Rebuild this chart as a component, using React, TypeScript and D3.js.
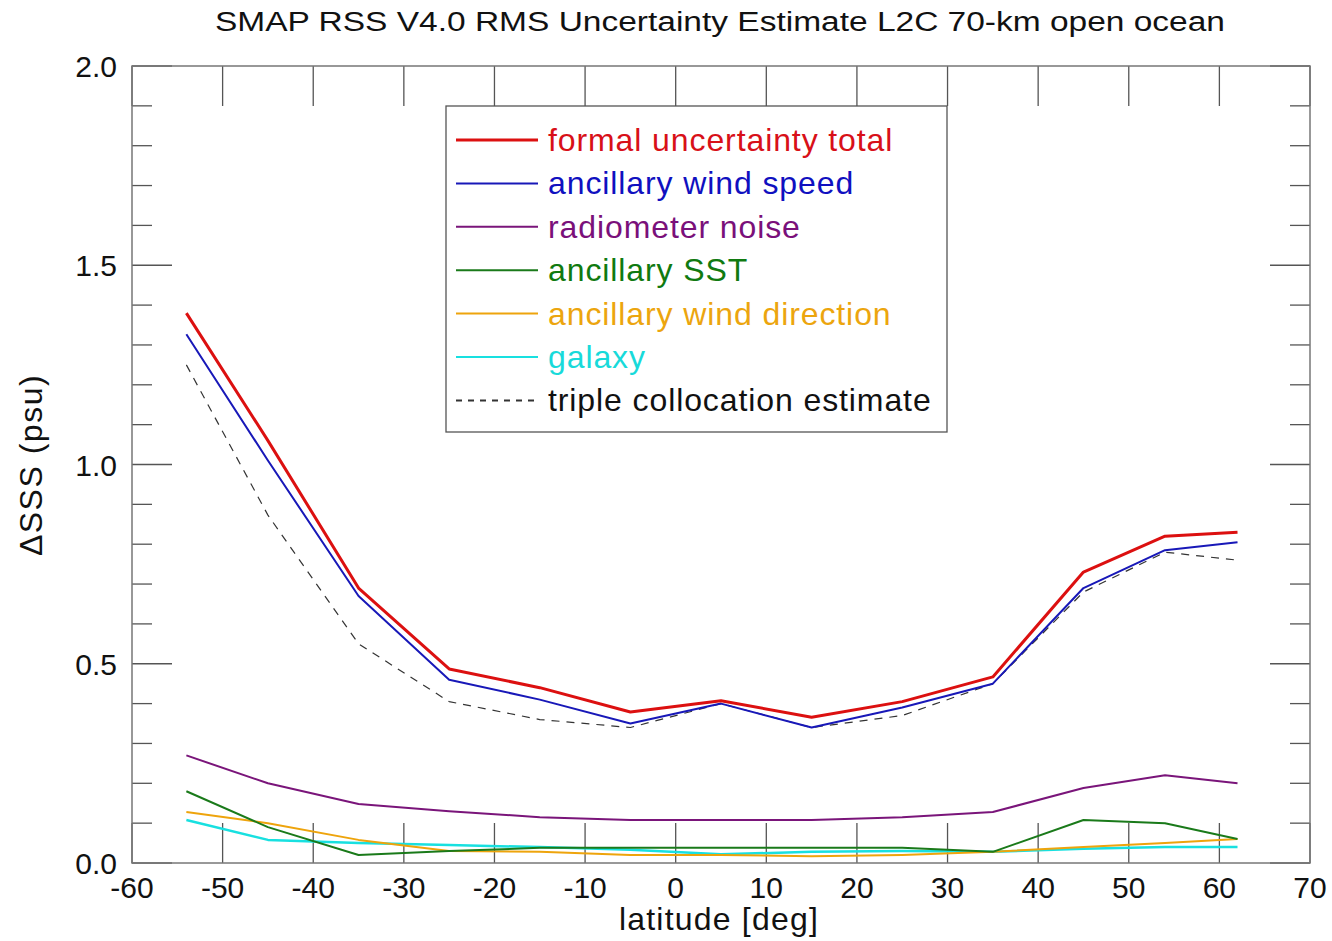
import React from "react";
import * as d3 from "d3";

const latitudes = [-54, -45, -35, -25, -15, -5, 5, 15, 25, 35, 45, 54, 62];
const formalTotal = [1.38, 1.06, 0.69, 0.487, 0.44, 0.379, 0.407, 0.366, 0.405, 0.467, 0.73, 0.82, 0.83];
const windSpeed = [1.327, 1.01, 0.67, 0.46, 0.41, 0.35, 0.40, 0.34, 0.39, 0.45, 0.69, 0.785, 0.805];
const radiometerNoise = [0.27, 0.20, 0.148, 0.13, 0.115, 0.108, 0.108, 0.108, 0.115, 0.128, 0.188, 0.22, 0.20];
const ancillarySST = [0.18, 0.09, 0.02, 0.03, 0.038, 0.038, 0.038, 0.038, 0.038, 0.028, 0.108, 0.10, 0.06];
const windDirection = [0.128, 0.10, 0.058, 0.03, 0.028, 0.02, 0.02, 0.017, 0.02, 0.028, 0.04, 0.05, 0.06];
const galaxy = [0.108, 0.058, 0.05, 0.045, 0.04, 0.033, 0.022, 0.028, 0.03, 0.028, 0.036, 0.04, 0.04];
const tripleCollocation = [1.25, 0.873, 0.55, 0.405, 0.36, 0.34, 0.40, 0.34, 0.37, 0.45, 0.68, 0.78, 0.76];

const xTicks = [-60, -50, -40, -30, -20, -10, 0, 10, 20, 30, 40, 50, 60, 70];
const yMajor = [0, 0.5, 1.0, 1.5, 2.0];
const yMinor = d3.range(0, 2.0001, 0.1);

const title = "SMAP RSS V4.0 RMS Uncertainty Estimate L2C 70-km open ocean";
const xLabel = "latitude [deg]";
const yLabel = "\u0394SSS (psu)";

const series = [
  { name: "formal uncertainty total", values: formalTotal, color: "#dc1010", width: 3, dash: "" },
  { name: "ancillary wind speed", values: windSpeed, color: "#1818b8", width: 2, dash: "" },
  { name: "radiometer noise", values: radiometerNoise, color: "#7a157a", width: 2, dash: "" },
  { name: "ancillary SST", values: ancillarySST, color: "#1a7a1a", width: 2, dash: "" },
  { name: "ancillary wind direction", values: windDirection, color: "#eea40c", width: 2, dash: "" },
  { name: "galaxy", values: galaxy, color: "#18e0e0", width: 2.5, dash: "" },
  { name: "triple collocation estimate", values: tripleCollocation, color: "#333333", width: 1.2, dash: "8,7" },
];
const legendText = [
  "#d81018", "#1010c0", "#7a107a", "#107a10", "#eca50e", "#18dada", "#111111",
];

export default function App() {
  const W = 1332, H = 941;
  const left = 132, right = 1310, top = 66, bottom = 863;
  const x = d3.scaleLinear().domain([-60, 70]).range([left, right]);
  const y = d3.scaleLinear().domain([0, 2]).range([bottom, top]);
  const line = d3.line<number>().x((_, i) => x(latitudes[i])).y((v) => y(v));
  const font = "'Liberation Sans', Arial, Helvetica, sans-serif";
  const tickColor = "#555";

  const lgX = 446, lgY = 106, lgW = 501, lgH = 326;
  const rowY0 = 140, rowDy = 43.4;

  return (
    <svg width={W} height={H} style={{ position: "absolute", left: 0, top: 0, background: "#fff" }} fontFamily={font}>
      <rect x={0} y={0} width={W} height={H} fill="#fff" />
      <text x={720} y={31} fontSize={27} textAnchor="middle" textLength={1010} lengthAdjust="spacingAndGlyphs" fill="#111">{title}</text>

      {/* x ticks */}
      {xTicks.map((t) => (
        <g key={"xt" + t}>
          <line x1={x(t)} x2={x(t)} y1={bottom} y2={bottom - 40} stroke={tickColor} strokeWidth={1.3} />
          <line x1={x(t)} x2={x(t)} y1={top} y2={top + 40} stroke={tickColor} strokeWidth={1.3} />
          <text x={x(t)} y={bottom + 35} fontSize={30} textAnchor="middle" fill="#111">{t}</text>
        </g>
      ))}
      {/* y ticks */}
      {yMinor.map((t, i) => {
        const major = i % 5 === 0;
        const len = major ? 40 : 20;
        return (
          <g key={"yt" + i}>
            <line x1={left} x2={left + len} y1={y(t)} y2={y(t)} stroke={tickColor} strokeWidth={1.3} />
            <line x1={right} x2={right - len} y1={y(t)} y2={y(t)} stroke={tickColor} strokeWidth={1.3} />
          </g>
        );
      })}
      {yMajor.map((t) => (
        <text key={"yl" + t} x={117} y={y(t) + 11} fontSize={30} textAnchor="end" fill="#111">{t.toFixed(1)}</text>
      ))}

      {/* frame */}
      <rect x={left} y={top} width={right - left} height={bottom - top} fill="none" stroke="#777" strokeWidth={1.5} />

      {/* series */}
      {series.slice().reverse().map((s) => (
        <path key={s.name} d={line(s.values) || ""} fill="none" stroke={s.color} strokeWidth={s.width} strokeDasharray={s.dash || undefined} strokeLinejoin="round" />
      ))}

      {/* legend */}
      <rect x={lgX} y={lgY} width={lgW} height={lgH} fill="#fff" stroke="#555" strokeWidth={1.3} />
      {series.map((s, i) => {
        const yy = rowY0 + i * rowDy;
        return (
          <g key={"lg" + i}>
            <line x1={456} x2={538} y1={yy} y2={yy} stroke={s.color} strokeWidth={s.width === 3 ? 3 : 2} strokeDasharray={s.dash ? "6,6" : undefined} />
            <text x={548} y={yy + 11} fontSize={32} letterSpacing={0.9} fill={legendText[i]}>{s.name}</text>
          </g>
        );
      })}

      <text x={719} y={930} fontSize={32} letterSpacing={1.2} textAnchor="middle" fill="#111">{xLabel}</text>
      <text transform={`translate(42, ${465}) rotate(-90)`} fontSize={32} letterSpacing={1.5} textAnchor="middle" fill="#111">{yLabel}</text>
    </svg>
  );
}
